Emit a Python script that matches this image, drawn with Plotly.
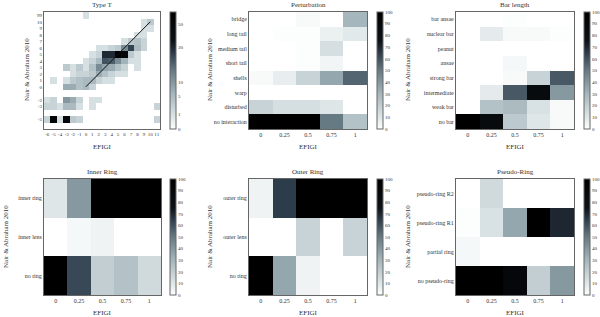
import plotly.graph_objects as go
import numpy as np

W, H = 600, 317
FONT = "Liberation Serif"
TXT = "#333"

# ---------------- data ----------------
efigi_bins = ["0", "0.25", "0.5", "0.75", "1"]

# Type T (counts), x = EFIGI T from -6..11, y = NA10 T from -6..11 (11 labelled "99")
t_x = list(range(-6, 12))
t_y = list(range(-6, 12))
t_ytick_vals = [-5, -3, -2, 0, 1, 2, 3, 4, 5, 6, 7, 8, 9, 10, 11]
t_ytick_text = ["-5", "-3", "-2", "0", "1", "2", "3", "4", "5", "6", "7", "8", "9", "10", "99"]
#            x: -6 -5 -4 -3 -2 -1  0  1  2  3  4  5  6  7  8  9 10 11
t_counts = [
    [0, 0, 0, 0, 0, 0, 0, 0, 0, 0, 0, 0, 0, 0, 0, 0, 0, 0],     # -6
    [2, 55, 1, 50, 3, 2, 0, 0, 0, 0, 0, 0, 0, 0, 0, 0, 0, 2],   # -5
    [0, 0, 0, 0, 0, 0, 0, 0, 0, 0, 0, 0, 0, 0, 0, 0, 0, 0],     # -4
    [2, 2, 1, 5, 5, 1, 0, 1, 0, 0, 0, 0, 0, 0, 0, 0, 0, 2],     # -3
    [1, 2, 0, 10, 7, 2, 0, 1, 1, 0, 0, 0, 0, 0, 0, 0, 0, 0],    # -2
    [0, 0, 0, 0, 0, 0, 0, 0, 0, 0, 0, 0, 0, 0, 0, 0, 0, 0],     # -1
    [0, 0, 0, 7, 7, 4, 5, 2, 0, 0, 0, 0, 0, 0, 0, 0, 0, 0],     # 0
    [0, 1, 0, 1, 3, 4, 5, 5, 2, 1, 1, 0, 0, 0, 0, 0, 0, 0],     # 1
    [0, 0, 0, 0, 1, 2, 2, 3, 7, 4, 2, 1, 1, 0, 0, 0, 0, 0],     # 2
    [0, 0, 0, 3, 1, 3, 1, 4, 12, 8, 7, 4, 2, 0, 1, 0, 0, 0],    # 3
    [0, 0, 0, 0, 0, 0, 1, 2, 5, 22, 20, 12, 6, 1, 1, 0, 0, 0],  # 4
    [0, 0, 0, 0, 0, 0, 0, 1, 2, 30, 30, 62, 50, 3, 1, 0, 0, 0], # 5
    [0, 0, 0, 0, 0, 0, 0, 0, 1, 1, 2, 3, 12, 25, 5, 2, 0, 0],   # 6
    [0, 0, 0, 0, 0, 0, 0, 0, 0, 0, 0, 0, 1, 3, 4, 2, 0, 0],     # 7
    [0, 0, 0, 0, 0, 0, 0, 0, 0, 0, 0, 0, 0, 0, 1, 1, 0, 0],     # 8
    [0, 0, 0, 0, 0, 0, 0, 0, 0, 0, 0, 0, 0, 0, 0, 1, 1, 0],     # 9
    [0, 0, 0, 0, 0, 0, 0, 0, 0, 0, 0, 0, 0, 0, 0, 1, 3, 0],     # 10
    [0, 0, 0, 0, 0, 0, 1, 0, 0, 0, 0, 0, 0, 0, 0, 0, 0, 0],     # 11 (99)
]
t_cb_ticks = [0, 1, 5, 10, 30, 50]
t_cb_max = 62
t_line_x = [0, 10]
t_line_y = [0, 10]

pert_cats = ["no interaction", "disturbed", "warp", "shells",
             "short tail", "medium tail", "long tail", "bridge"]
pert_vals = [
    [100, 100, 100, 50, 25],
    [18, 13, 13, 10, 0],
    [0, 0, 0, 0, 0],
    [2, 7, 18, 35, 55],
    [0, 0, 1, 4, 0],
    [0, 0, 1, 13, 0],
    [0, 1, 1, 6, 9],
    [0, 0, 2, 0, 30],
]

bar_cats = ["no bar", "weak bar", "intermediate", "strong bar",
            "ansae", "peanut", "nuclear bar", "bar ansae"]
bar_vals = [
    [100, 85, 22, 10, 2],
    [0, 25, 28, 12, 2],
    [0, 8, 58, 85, 40],
    [0, 0, 2, 18, 58],
    [0, 0, 3, 0, 0],
    [0, 0, 0, 0, 0],
    [0, 8, 2, 2, 1],
    [0, 0, 1, 0, 0],
]

inner_cats = ["no ring", "inner lens", "inner ring"]
inner_vals = [
    [100, 62, 20, 25, 15],
    [0, 3, 5, 0, 0],
    [10, 40, 100, 100, 100],
]

outer_cats = ["no ring", "outer lens", "outer ring"]
outer_vals = [
    [100, 35, 5, 0, 0],
    [0, 0, 18, 0, 18],
    [5, 65, 100, 100, 100],
]

pseudo_cats = ["no pseudo-ring", "partial ring", "pseudo-ring R1", "pseudo-ring R2"]
pseudo_vals = [
    [100, 100, 90, 20, 40],
    [3, 0, 0, 0, 0],
    [1, 12, 35, 100, 70],
    [0, 15, 0, 0, 0],
]

pct_ticks = list(range(0, 101, 10))

# ---------------- style ----------------
cmap = [[0.0, "rgb(255,255,255)"], [0.1, "rgb(222,230,232)"],
        [0.3, "rgb(165,182,188)"], [0.5, "rgb(102,122,132)"],
        [0.65, "rgb(45,60,74)"], [0.75, "rgb(14,18,24)"], [1.0, "rgb(0,0,0)"]]

def px_x(v):
    return v / W

def px_y(v):
    return 1 - v / H

# panel geometry in pixels: (x0, x1, y0, y1, cbx)
geo = [
    (44, 160, 12, 129, 170),
    (249, 367, 12, 129, 377),
    (456, 574, 12, 129, 584),
    (44, 161, 179, 295, 170),
    (249, 367, 179, 295, 377),
    (456, 574, 179, 295, 584),
]

fig = go.Figure()
layout = dict(
    width=W, height=H, margin=dict(l=0, r=0, t=0, b=0),
    paper_bgcolor="white", plot_bgcolor="white", showlegend=False,
    font=dict(family=FONT, size=6, color=TXT),
)

axis_common = dict(showgrid=False, zeroline=False, showline=True, mirror=True,
                   linecolor="#666", linewidth=1, ticks="", tickangle=0,
                   tickfont=dict(family=FONT, size=6, color=TXT))

annotations = []

def add_panel(i, z, xs, ys, xtv, xtt, ytv, ytt, zmax, cbtv, cbtt, title, xr, yr, tfs=6):
    x0, x1, y0, y1, cbx = geo[i]
    ax = "" if i == 0 else str(i + 1)
    fig.add_trace(go.Heatmap(
        z=z, x=xs, y=ys, zmin=0, zmax=zmax, colorscale=cmap,
        xaxis="x" + ax, yaxis="y" + ax, hoverinfo="skip",
        colorbar=dict(
            x=px_x(cbx), xanchor="left", xpad=0,
            y=px_y(y0), yanchor="top", ypad=0,
            len=(y1 - y0), lenmode="pixels", thickness=6, thicknessmode="pixels",
            outlinecolor="#666", outlinewidth=1,
            tickvals=cbtv, ticktext=cbtt, ticks="",
            tickfont=dict(family=FONT, size=5, color=TXT),
        ),
    ))
    tf = dict(family=FONT, size=tfs, color=TXT)
    layout["xaxis" + ax] = dict(axis_common, domain=[px_x(x0), px_x(x1)],
                                anchor="y" + ax, range=xr, tickfont=tf,
                                tickvals=xtv, ticktext=xtt)
    layout["yaxis" + ax] = dict(axis_common, domain=[px_y(y1), px_y(y0)],
                                anchor="x" + ax, range=yr, tickfont=tf,
                                tickvals=ytv, ticktext=ytt)
    cx = (x0 + x1) / 2
    annotations.append(dict(text=title, x=px_x(cx), y=px_y(y0 - 7), xref="paper", yref="paper",
                            showarrow=False, font=dict(family=FONT, size=7, color=TXT),
                            xanchor="center", yanchor="middle"))
    annotations.append(dict(text="EFIGI", x=px_x(cx), y=px_y(y1 + 18), xref="paper", yref="paper",
                            showarrow=False, font=dict(family=FONT, size=7, color=TXT),
                            xanchor="center", yanchor="middle"))

# Type T
t_z = np.sqrt(np.array(t_counts, dtype=float))
add_panel(0, t_z, t_x, t_y, t_x, [str(v) for v in t_x], t_ytick_vals, t_ytick_text,
          np.sqrt(t_cb_max), [np.sqrt(v) for v in t_cb_ticks], [str(v) for v in t_cb_ticks],
          "Type T", [-6.5, 11.5], [-6.5, 11.5], tfs=5)
fig.add_trace(go.Scatter(x=t_line_x, y=t_line_y, mode="lines", xaxis="x", yaxis="y",
                         line=dict(color="#111", width=1), hoverinfo="skip"))

cat_panels = [
    (1, pert_vals, pert_cats, "Perturbation"),
    (2, bar_vals, bar_cats, "Bar length"),
    (3, inner_vals, inner_cats, "Inner Ring"),
    (4, outer_vals, outer_cats, "Outer Ring"),
    (5, pseudo_vals, pseudo_cats, "Pseudo-Ring"),
]
for i, vals, cats, title in cat_panels:
    n = len(cats)
    add_panel(i, vals, list(range(5)), list(range(n)), list(range(5)), efigi_bins,
              list(range(n)), cats, 100, pct_ticks, [str(v) for v in pct_ticks],
              title, [-0.5, 4.5], [-0.5, n - 0.5])

# y-axis labels
ylab = [(27, 70), (210, 70), (408, 70), (6, 237), (210, 237), (408, 237)]
for xp, yp in ylab:
    annotations.append(dict(text="Nair & Abraham 2010", x=px_x(xp), y=px_y(yp),
                            xref="paper", yref="paper", showarrow=False, textangle=-90,
                            font=dict(family=FONT, size=7, color=TXT),
                            xanchor="center", yanchor="middle"))

layout["annotations"] = annotations
fig.update_layout(**layout)
fig.write_html("out.html", config={"displayModeBar": False},
               post_script="document.body.style.margin='0px';document.body.style.padding='0px';")
